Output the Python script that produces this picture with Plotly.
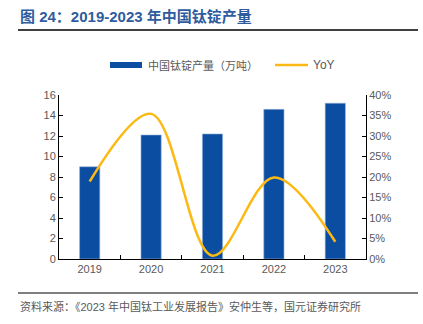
import plotly.graph_objects as go

years = ["2019", "2020", "2021", "2022", "2023"]
output_wt = [9.0, 12.1, 12.2, 14.6, 15.2]
yoy = [0.189, 0.354, 0.008, 0.199, 0.042]
left_ticks = [0, 2, 4, 6, 8, 10, 12, 14, 16]
right_ticks = [0, 0.05, 0.10, 0.15, 0.20, 0.25, 0.30, 0.35, 0.40]
right_labels = ["0%", "5%", "10%", "15%", "20%", "25%", "30%", "35%", "40%"]

BAR = "#0B4DA1"
LINE = "#FDB913"
GRAY = "#595959"
FONT = "Liberation Sans, Noto Sans CJK SC, sans-serif"

fig = go.Figure()
fig.add_trace(go.Bar(x=years, y=output_wt, name="中国钛锭产量（万吨）",
                     marker=dict(color=BAR, line=dict(color="#9DB6DA", width=0.6)),
                     width=0.33, yaxis="y"))
fig.add_trace(go.Scatter(x=years, y=yoy, name="YoY", mode="lines",
                         line=dict(color=LINE, width=2.5, shape="spline", smoothing=1.0),
                         yaxis="y2"))

W, H = 423, 324
L, R, T, B = 59, 57, 95, 65
plot_w = W - L - R
plot_h = H - T - B

def sx(x):
    return (x - L) / plot_w

def sy(y):
    return (H - B - y) / plot_h

fig.update_layout(
    width=W, height=H,
    margin=dict(l=L, r=R, t=T, b=B),
    paper_bgcolor="white", plot_bgcolor="white",
    showlegend=False,
    font=dict(family=FONT, size=11, color=GRAY),
    xaxis=dict(type="category", showline=True, linecolor="black", linewidth=1,
               ticks="inside", tickson="boundaries", ticklen=4, tickcolor="black",
               showgrid=False, tickfont=dict(size=11, color=GRAY)),
    yaxis=dict(range=[0, 16], tickvals=left_ticks, showline=True, linecolor="black",
               linewidth=1, ticks="inside", ticklen=4, tickcolor="black",
               showgrid=False, zeroline=False, tickfont=dict(size=11, color=GRAY)),
    yaxis2=dict(range=[0, 0.40], tickvals=right_ticks, ticktext=right_labels,
                overlaying="y", side="right", showline=True, linecolor="black",
                linewidth=1, ticks="inside", ticklen=4, tickcolor="black",
                showgrid=False, zeroline=False, tickfont=dict(size=11, color=GRAY)),
)

fig.add_shape(type="line", xref="paper", yref="paper", x0=sx(18), x1=sx(418),
              y0=sy(30), y1=sy(30), line=dict(color="black", width=1.5))
fig.add_shape(type="line", xref="paper", yref="paper", x0=sx(18), x1=sx(418),
              y0=sy(293), y1=sy(293), line=dict(color="black", width=1.2))
fig.add_shape(type="rect", xref="paper", yref="paper", x0=sx(110), x1=sx(142),
              y0=sy(68), y1=sy(62), fillcolor=BAR, line=dict(width=0))
fig.add_shape(type="line", xref="paper", yref="paper", x0=sx(275), x1=sx(308),
              y0=sy(65), y1=sy(65), line=dict(color=LINE, width=2.5))

annos = [
    dict(text="<b>图 24：2019-2023 年中国钛锭产量</b>", x=sx(18), y=sy(16),
         xanchor="left", yanchor="middle", font=dict(size=15, color="#2E5C9E")),
    dict(text="中国钛锭产量（万吨）", x=sx(146), y=sy(65), xanchor="left",
         yanchor="middle", font=dict(size=11, color=GRAY)),
    dict(text="YoY", x=sx(311), y=sy(65), xanchor="left", yanchor="middle",
         font=dict(size=12, color=GRAY)),
    dict(text="资料来源：《2023 年中国钛工业发展报告》安仲生等，国元证券研究所",
         x=sx(18), y=sy(306), xanchor="left", yanchor="middle",
         font=dict(size=11, color=GRAY)),
]
for a in annos:
    fig.add_annotation(xref="paper", yref="paper", showarrow=False, **a)

fig.write_html("out.html")
